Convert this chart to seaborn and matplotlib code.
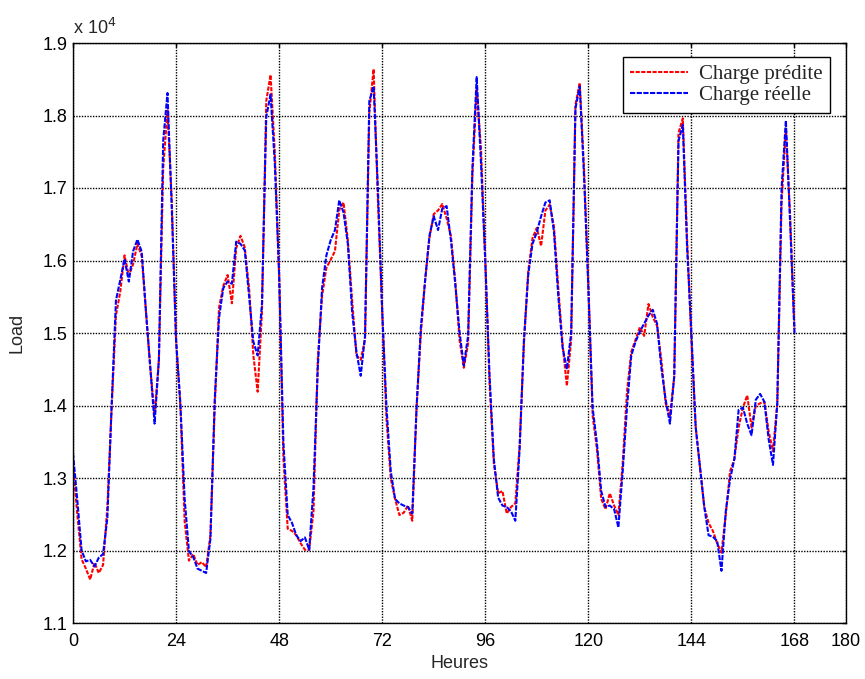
import matplotlib
matplotlib.use("Agg")
import matplotlib.pyplot as plt
import matplotlib.ticker as mtick
import numpy as np
import pandas as pd
import seaborn as sns

# heures 0..168
hours = list(range(169))

# charge réelle (bleu)
charge_reelle = [
    13340, 12700, 12000, 11850, 11870, 11780, 11900, 11950, 12450, 14000, 15450, 15730,
    16020, 15710, 16130, 16290, 16120, 15290, 14520, 13750, 14630, 17650, 18310, 16720,
    14900, 14030, 12710, 11990, 11910, 11750, 11720, 11690, 12160, 14080, 15210, 15620,
    15710, 15680, 16260, 16230, 16140, 15510, 14880, 14690, 15400, 17980, 18290, 17330,
    15800, 13480, 12490, 12380, 12210, 12130, 12180, 12010, 12870, 14520, 15620, 16070,
    16280, 16420, 16830, 16660, 16230, 15290, 14740, 14410, 14960, 18200, 18400, 16990,
    15300, 13970, 13090, 12710, 12650, 12620, 12600, 12510, 13970, 15080, 15730, 16340,
    16610, 16420, 16720, 16750, 16280, 15680, 15020, 14550, 14960, 17270, 18530, 17350,
    16000, 14410, 13260, 12730, 12620, 12600, 12540, 12410, 13400, 14900, 15800, 16230,
    16390, 16610, 16800, 16830, 16390, 15510, 14800, 14500, 15000, 18100, 18400, 17160,
    15620, 13970, 13480, 12820, 12600, 12620, 12570, 12320, 13090, 13970, 14690, 14880,
    15020, 15130, 15240, 15320, 15130, 14520, 14080, 13750, 14400, 17650, 17870, 16170,
    15000, 13700, 13150, 12600, 12210, 12190, 12130, 11720, 12540, 12980, 13260, 13940,
    13970, 13750, 13590, 14080, 14160, 14050, 13530, 13180, 14030, 17000, 17930, 16500,
    15000,
]

# charge prédite (rouge)
charge_predite = [
    13180, 12500, 11880, 11750, 11600, 11830, 11690, 11800, 12600, 13970, 15240, 15570,
    16070, 15790, 15950, 16230, 16060, 15290, 14520, 13860, 14630, 17270, 18070, 16830,
    14900, 14000, 12400, 11860, 11950, 11800, 11840, 11770, 12210, 13970, 15350, 15650,
    15800, 15410, 16170, 16340, 16180, 15620, 14690, 14190, 15290, 18200, 18560, 17490,
    15800, 13260, 12300, 12270, 12210, 12100, 12010, 12010, 12540, 14630, 15510, 15900,
    16010, 16130, 16700, 16800, 16280, 15450, 14690, 14630, 14910, 18040, 18640, 16830,
    15300, 13810, 12990, 12710, 12490, 12520, 12620, 12410, 13970, 14990, 15730, 16310,
    16640, 16690, 16780, 16580, 16340, 15730, 14910, 14520, 14850, 17160, 18370, 17550,
    16000, 14300, 13200, 12790, 12820, 12510, 12600, 12650, 13450, 14850, 15850, 16310,
    16450, 16200, 16690, 16770, 16470, 15620, 14850, 14270, 14900, 18150, 18450, 17270,
    15700, 13860, 13400, 12710, 12570, 12790, 12620, 12490, 13200, 14190, 14740, 14910,
    15080, 14960, 15400, 15220, 15100, 14630, 14030, 13860, 14400, 17760, 17960, 16300,
    14900, 13700, 13150, 12600, 12380, 12270, 12100, 11970, 12490, 13090, 13260, 13700,
    13970, 14140, 13700, 14000, 14030, 14050, 13640, 13370, 14030, 16800, 17820, 16600,
    15050,
]

x_ticks = [0, 24, 48, 72, 96, 120, 144, 168, 180]
y_ticks = [11000, 12000, 13000, 14000, 15000, 16000, 17000, 18000, 19000]

sns.set_style("white")
plt.rcParams["font.family"] = ["Liberation Sans", "DejaVu Sans"]

fig = plt.figure(figsize=(8.65, 6.79), dpi=100)
ax = fig.add_axes([73 / 865, 1 - 623 / 679, 773 / 865, 580 / 679])

df = pd.DataFrame({"h": hours, "pred": charge_predite, "reel": charge_reelle})
sns.lineplot(data=df, x="h", y="pred", color="red", lw=1.5,
             linestyle=(0, (2, 0.7)), label="Charge prédite", ax=ax)
sns.lineplot(data=df, x="h", y="reel", color="blue", lw=1.5,
             linestyle=(0, (2.5, 0.7)), label="Charge réelle", ax=ax)

ax.set_xlim(0, 180)
ax.set_ylim(11000, 19000)
ax.set_xticks(x_ticks)
ax.set_yticks(y_ticks)
ax.yaxis.set_major_formatter(mtick.FuncFormatter(lambda v, _: f"{v / 1e4:.1f}"))

# grille pointillée façon MATLAB
ax.grid(True, color="black", linestyle=(0, (1, 1)), linewidth=1.0)
ax.tick_params(direction="in", length=3, width=1, top=True, right=True,
               labelsize=13, colors="black")
ax.tick_params(axis="x", pad=7)
ax.tick_params(axis="y", pad=4)
for sp in ax.spines.values():
    sp.set_color("black")
    sp.set_linewidth(1)

ax.set_xlabel("Heures", fontsize=13, labelpad=4)
ax.set_ylabel("Load", fontsize=13, labelpad=12)
ax.text(0.0, 1.008, r"x 10$^{4}$", transform=ax.transAxes, fontsize=13,
        ha="left", va="bottom")

leg = ax.legend(loc="upper right", bbox_to_anchor=(0.979, 0.976), borderaxespad=0,
                prop={"family": "Liberation Serif", "size": 15},
                handlelength=2.8, handletextpad=0.5, labelspacing=0.1,
                borderpad=0.35, fancybox=False, framealpha=1)
leg.get_frame().set_edgecolor("black")
leg.get_frame().set_linewidth(1)

fig.savefig("out.png", dpi=100)
